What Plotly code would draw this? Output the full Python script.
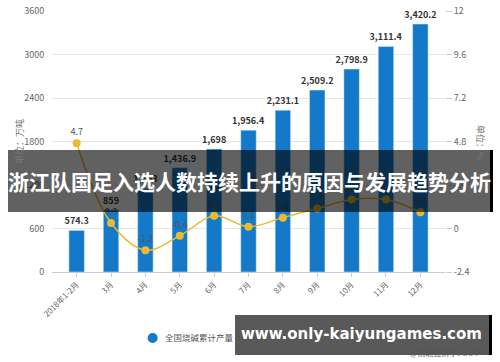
import plotly.graph_objects as go

categories = ["2018年1-2月", "3月", "4月", "5月", "6月", "7月", "8月", "9月", "10月", "11月", "12月"]
output_values = [574.3, 859, 1153, 1436.9, 1698, 1956.4, 2231.1, 2509.2, 2798.9, 3111.4, 3420.2]
output_labels = ["574.3", "859", "1,153", "1,436.9", "1,698", "1,956.4", "2,231.1", "2,509.2", "2,798.9", "3,111.4", "3,420.2"]
growth_values = [4.7, 0.3, -1.2, -0.4, 0.7, 0.1, 0.6, 1.1, 1.6, 1.6, 0.9]
left_ticks = [0, 600, 1200, 1800, 2400, 3000, 3600]
right_ticks = [-2.4, 0, 2.4, 4.8, 7.2, 9.6, 12]
right_tick_text = ["-2.4", "0", "2.4", "4.8", "7.2", "9.6", "12"]

FONT = "Noto Sans CJK SC, Noto Sans, sans-serif"

fig = go.Figure()
fig.add_trace(go.Bar(
    x=categories, y=output_values, text=["<b>%s</b>" % s for s in output_labels], textposition="outside",
    constraintext="none",
    textfont=dict(size=9, color="#333333", family=FONT), cliponaxis=False,
    marker=dict(color="#1479C8"), width=0.45, name="全国烧碱累计产量（万吨）",
    showlegend=False,
))
fig.add_trace(go.Scatter(
    x=categories, y=growth_values, yaxis="y2", mode="lines+markers+text",
    line=dict(color="#EDB92E", width=1.5, shape="spline", smoothing=1.0),
    marker=dict(color="#EDB92E", size=8),
    text=[str(v) for v in growth_values], textposition="top center",
    textfont=dict(size=9, color="#555555", family=FONT), cliponaxis=False,
    name="同比增长（%）", showlegend=False,
))

fig.update_layout(
    width=500, height=362,
    margin=dict(l=52, r=55, t=11, b=90),
    paper_bgcolor="white", plot_bgcolor="white",
    font=dict(family=FONT, size=9, color="#666666"),
    xaxis=dict(tickangle=-45, tickfont=dict(size=8, color="#666666"), automargin=False,
               showline=True, linecolor="#cccccc", ticks="outside", ticklen=4, tickcolor="#cccccc",
               showgrid=False),
    yaxis=dict(range=[0, 3600], tickvals=left_ticks, showgrid=True, gridcolor="#e6e6e6",
               zeroline=False, tickfont=dict(size=9, color="#666666"), automargin=False,
               ticks="outside", ticklen=5, tickcolor="#ffffff"),
    yaxis2=dict(range=[-2.4, 12], tickvals=right_ticks, ticktext=right_tick_text, overlaying="y", side="right",
                showgrid=False, zeroline=False, tickfont=dict(size=9, color="#666666"), automargin=False,
                ticks="outside", ticklen=6, tickcolor="#cccccc"),
)

# annotations in pixel coords: (x, y, text, size, color, anchor, angle, family)
anns = [
    (19, 142, "单位：万吨", 9, "#777777", "center", -90, FONT),
    (481, 142, "单位：%", 9, "#777777", "center", 90, FONT),
    (163, 337, "全国烧碱累计产量（万吨）", 8.5, "#555555", "left", 0, FONT),
    (152, 337, "●", 11, "#1479C8", "center", 0, FONT),
    (483, 352, "@前瞻经济学人APP", 8, "#555555", "right", 0, FONT),
]

W, H = 500, 362
l, r, t, b = 52, 55, 11, 90
pw, ph = W - l - r, H - t - b

def px_rect(x0, y0, x1, y1, color):
    fig.add_shape(type="rect", xref="paper", yref="paper",
                  x0=(x0 - l) / pw, x1=(x1 - l) / pw,
                  y0=(H - b - y1) / ph, y1=(H - b - y0) / ph,
                  fillcolor=color, line=dict(width=0), layer="above")

def px_ann(x, y, text, size, color, anchor="center", angle=0, family=FONT):
    fig.add_annotation(x=(x - l) / pw, y=(H - b - y) / ph, xref="paper", yref="paper",
                       text=text, showarrow=False, textangle=angle, xanchor=anchor, yanchor="middle",
                       font=dict(size=size, color=color, family=family))

for a in anns:
    px_ann(*a)

# overlay banners
px_rect(8, 150, 492, 212, "rgba(0,0,0,0.62)")
px_rect(490, 150, 493, 212, "black")
px_ann(250, 181, "<b>浙江队国足入选人数持续上升的原因与发展趋势分析</b>", 21, "white")
px_rect(235, 315, 491, 355, "rgba(80,80,80,0.95)")
px_rect(489, 315, 492, 355, "black")
px_ann(361, 334, "<b>www.only-kaiyungames.com</b>", 15, "white", "center", 0, "DejaVu Sans, sans-serif")

fig.write_html("out.html", config={"displayModeBar": False},
               post_script="document.body.style.margin='0px';document.body.style.overflow='hidden';")
